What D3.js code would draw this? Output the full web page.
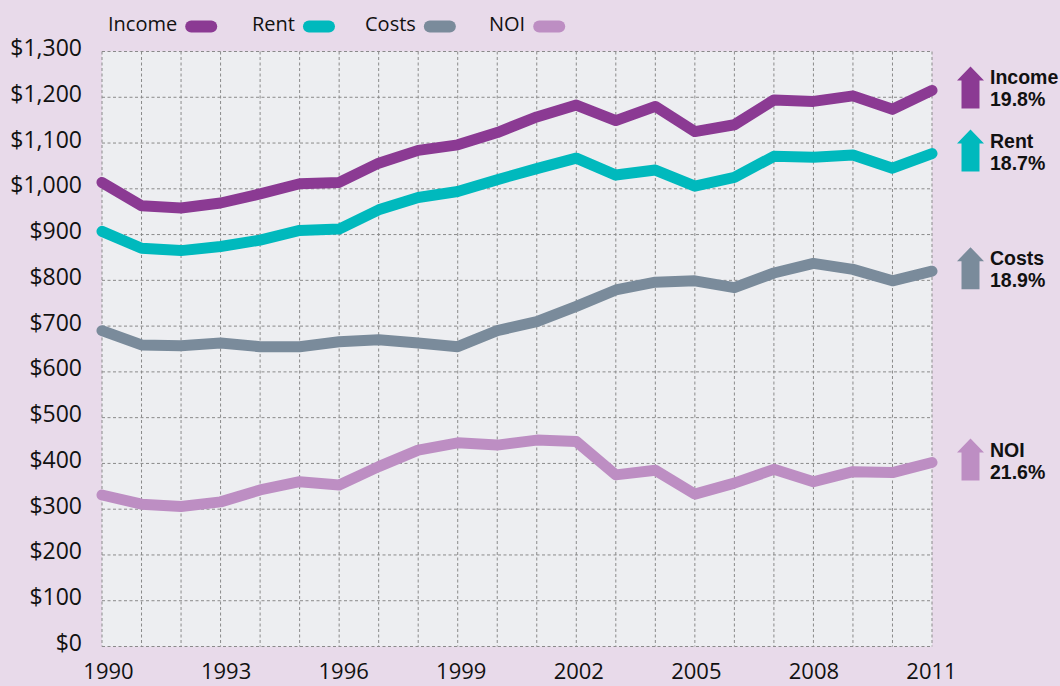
<!DOCTYPE html>
<html>
<head>
<meta charset="utf-8">
<script src="https://cdn.jsdelivr.net/npm/d3@7"></script>
<style>
  body { margin: 0; background: #e8daea; }
  svg { display: block; font-family: 'Open Sans', sans-serif; }
</style>
</head>
<body>
<div id="container"></div>
<script>
// Data (dollars)
const years = [1990, 1991, 1992, 1993, 1994, 1995, 1996, 1997, 1998, 1999, 2000,
               2001, 2002, 2003, 2004, 2005, 2006, 2007, 2008, 2009, 2010, 2011];
const income = [1014, 963, 958, 969, 989, 1011, 1014, 1056, 1084, 1096, 1123,
                1157, 1183, 1149, 1180, 1125, 1140, 1194, 1191, 1203, 1174, 1215];
const rent = [907, 870, 865, 874, 888, 909, 912, 954, 981, 994, 1020,
              1044, 1067, 1030, 1041, 1006, 1025, 1071, 1069, 1074, 1045, 1077];
const costs = [690, 659, 657, 663, 655, 655, 666, 670, 663, 655, 690,
               710, 743, 779, 796, 799, 784, 816, 837, 824, 799, 820];
const noi = [331, 311, 306, 316, 342, 360, 353, 393, 429, 445, 440,
             451, 448, 375, 385, 333, 357, 387, 360, 382, 380, 402];

const seriesNames = ['Income', 'Rent', 'Costs', 'NOI'];
const seriesColors = ['#8b3a93', '#00b9bd', '#7a8b9b', '#bd8ec3'];
const changes = ['19.8%', '18.7%', '18.9%', '21.6%'];

const yTicks = [0, 100, 200, 300, 400, 500, 600, 700, 800, 900, 1000, 1100, 1200, 1300];
const xTickYears = [1990, 1993, 1996, 1999, 2002, 2005, 2008, 2011];

const allSeries = [income, rent, costs, noi];

const width = 1060;
const height = 686;

const svg = d3.select('#container').append('svg')
    .attr('width', width)
    .attr('height', height)
    .style('background-color', '#e8daea');

const x = d3.scaleLinear().domain([1990, 2011]).range([102, 932]);
const y = d3.scaleLinear().domain([0, 1300]).range([646.5, 51.5]);
// year labels sit a little off the grid in the original
const xLabel = d3.scaleLinear().domain([1990, 2011]).range([108, 931]);

//Plot background
svg.append('rect')
    .attr('x', x(1990))
    .attr('y', y(1300))
    .attr('width', x(2011) - x(1990))
    .attr('height', y(0) - y(1300))
    .attr('fill', '#edeef1');

//Grid
const grid = svg.append('g')
    .attr('stroke', '#8a8a8a')
    .attr('stroke-width', 1)
    .attr('stroke-dasharray', '3,2.5');

grid.selectAll('.h')
    .data(yTicks)
    .enter().append('line')
    .attr('x1', x(1990)).attr('x2', x(2011))
    .attr('y1', d => y(d)).attr('y2', d => y(d));

grid.selectAll('.v')
    .data(years)
    .enter().append('line')
    .attr('x1', d => x(d)).attr('x2', d => x(d))
    .attr('y1', y(1300)).attr('y2', y(0));

//Axes
const yAxis = svg.append('g')
    .attr('transform', 'translate(82,0)')
    .call(d3.axisLeft(y)
        .tickValues(yTicks)
        .tickSize(0)
        .tickPadding(0)
        .tickFormat(d => '$' + d3.format(',')(d)));
yAxis.select('.domain').remove();
yAxis.selectAll('text')
    .attr('font-family', "'Open Sans', sans-serif")
    .attr('font-size', 23)
    .attr('fill', '#111')
    .attr('dy', null)
    .attr('y', 4);

const xAxis = svg.append('g')
    .attr('transform', 'translate(0,679)')
    .call(d3.axisBottom(xLabel)
        .tickValues(xTickYears)
        .tickSize(0)
        .tickPadding(0)
        .tickFormat(d3.format('d')));
xAxis.select('.domain').remove();
xAxis.selectAll('text')
    .attr('font-family', "'Open Sans', sans-serif")
    .attr('font-size', 22)
    .attr('fill', '#111')
    .attr('dy', null)
    .attr('y', 0);

//Lines
const line = d3.line()
    .x((d, i) => x(years[i]))
    .y(d => y(d));

svg.append('g')
    .selectAll('path')
    .data(allSeries)
    .enter().append('path')
    .attr('d', line)
    .attr('fill', 'none')
    .attr('stroke', (d, i) => seriesColors[i])
    .attr('stroke-width', 11)
    .attr('stroke-linecap', 'round')
    .attr('stroke-linejoin', 'round');

//Legend
const legendX = [108, 252, 365, 489];
const legend = svg.append('g');
seriesNames.forEach((name, i) => {
    const t = legend.append('text')
        .attr('x', legendX[i])
        .attr('y', 31)
        .attr('font-size', 20)
        .attr('fill', '#111')
        .text(name);
    const w = t.node().getComputedTextLength();
    legend.append('rect')
        .attr('x', legendX[i] + w + 8)
        .attr('y', 20.5)
        .attr('width', 32)
        .attr('height', 12)
        .attr('rx', 6)
        .attr('fill', seriesColors[i]);
});

//Right-hand notes: arrow + name + change
const notes = svg.append('g')
    .attr('font-family', "'Liberation Sans', Arial, sans-serif")
    .attr('font-size', 19.5)
    .attr('font-weight', 'bold')
    .attr('fill', '#111');
allSeries.forEach((s, i) => {
    const top = y(s[s.length - 1]) - 24;
    const cx = 970.5;
    const arrow = d3.path();
    arrow.moveTo(cx, top);
    arrow.lineTo(cx + 13.5, top + 14);
    arrow.lineTo(cx + 9, top + 14);
    arrow.lineTo(cx + 9, top + 42);
    arrow.lineTo(cx - 9, top + 42);
    arrow.lineTo(cx - 9, top + 14);
    arrow.lineTo(cx - 13.5, top + 14);
    arrow.closePath();
    notes.append('path')
        .attr('d', arrow.toString())
        .attr('fill', seriesColors[i]);
    notes.append('text')
        .attr('x', 990)
        .attr('y', top + 18)
        .text(seriesNames[i]);
    notes.append('text')
        .attr('x', 990)
        .attr('y', top + 40)
        .text(changes[i]);
});
</script>
</body>
</html>
